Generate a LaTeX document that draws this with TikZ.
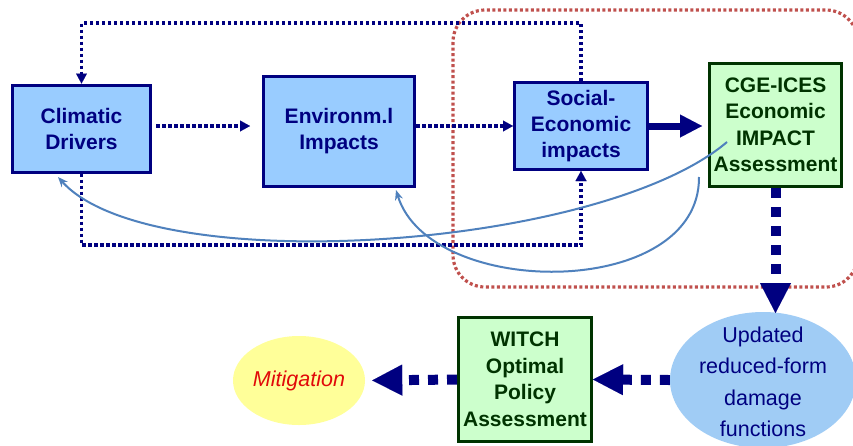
\documentclass[tikz,border=0pt]{standalone}
\usepackage{fontspec}
\setmainfont{Liberation Sans}
\usetikzlibrary{arrows.meta,shapes.geometric}
\definecolor{navyc}{RGB}{0,0,128}
\definecolor{boxblue}{RGB}{153,204,255}
\definecolor{boxgreen}{RGB}{204,255,204}
\definecolor{dgreen}{RGB}{0,51,0}
\definecolor{yellowc}{RGB}{255,255,153}
\definecolor{ellblue}{RGB}{160,204,245}
\definecolor{reddot}{RGB}{192,80,77}
\definecolor{steel}{RGB}{79,129,189}
\definecolor{mitred}{RGB}{225,10,10}
\begin{document}
\begin{tikzpicture}[x=1pt,y=-1pt,
 bluebox/.style={draw=navyc, line width=3pt, fill=boxblue, text=navyc, font=\bfseries\fontsize{21}{26}\selectfont, align=center, inner sep=0pt},
 greenbox/.style={draw=dgreen, line width=3pt, fill=boxgreen, text=dgreen, font=\bfseries\fontsize{21}{26.5}\selectfont, align=center, inner sep=0pt},
 dotline/.style={draw=navyc, line width=3.5pt, dash pattern=on 3.5pt off 2.5pt},
 dottip/.style={-{Triangle[length=10pt,width=11pt,line width=0.01pt]}},
 thickdash/.style={draw=navyc, line width=10pt, dash pattern=on 10pt off 9pt},
 bigtip/.style={-{Triangle[length=30pt,width=31pt,line width=0.01pt]}},
 curvearrow/.style={draw=steel, line width=2pt, -{Stealth[length=10pt,width=8pt]}},
 reddotline/.style={draw=reddot, line width=3.2pt, dash pattern=on 3pt off 2.5pt}]
\useasboundingbox[fill=white] (0,0) rectangle (853,445);

% red grouping frame
\draw[reddotline, rounded corners=32pt] (453,10) rectangle (858,287);

% nodes
\node[bluebox, minimum width=138pt, minimum height=87pt] (clim) at (81.5,128.5) {Climatic\\Drivers};
\node[bluebox, minimum width=151pt, minimum height=110pt] (env) at (339,131) {Environm.l\\Impacts};
\node[bluebox, minimum width=133pt, minimum height=87pt] (soc) at (581,126) {Social-\\Economic\\impacts};
\node[greenbox, minimum width=132pt, minimum height=123pt] (cge) at (775.5,125) {CGE-ICES\\Economic\\IMPACT\\Assessment};
\node[greenbox, minimum width=133pt, minimum height=124pt] (witch) at (525,379.5) {WITCH\\Optimal\\Policy\\Assessment};
\node[ellipse, fill=yellowc, minimum width=132pt, minimum height=89pt, inner sep=0pt] (mit) at (299,380.5) {};
\node[text=mitred, font=\itshape\fontsize{21.5}{26}\selectfont, inner sep=0pt] (mittext) at (mit) {Mitigation};
\node[ellipse, fill=ellblue, minimum width=186pt, minimum height=136pt, inner sep=0pt] (upd) at (763,380) {};
\node[text=navyc, font=\fontsize{21.5}{31.5}\selectfont, align=center, inner sep=0pt] (updtext) at (763,382) {Updated\\reduced-form\\damage\\functions};

% helper coordinates
\coordinate (ttop) at (0,23);
\coordinate (tbot) at (0,245);
\coordinate (hrow) at (0,126);
\coordinate (updtop) at (0,313);

% dotted connectors
\draw[dotline, dottip] (soc.north) -- (soc.north |- ttop) -| (clim.north);
\draw[dotline, dottip] (clim.south) -- (clim.south |- tbot) -| (soc.south);
\draw[dotline, dottip, shorten <=4pt, shorten >=12pt] (clim.east |- hrow) -- (env.west |- hrow);
\draw[dotline, dottip] (env.east |- hrow) -- (soc.west |- hrow);

% thick solid arrow
\draw[navyc, line width=7pt, -{Triangle[length=22pt,width=23pt,line width=0.01pt]}, shorten >=6pt] (soc.east) -- (soc.east -| cge.west);

% thick dashed arrows
\draw[thickdash, bigtip] (cge.south) -- (cge.south |- updtop);
\draw[thickdash, bigtip] (upd.west) -- (witch.east);
\draw[thickdash, bigtip, shorten >=7pt] (witch.west) -- (mit.east);

% feedback curves
\coordinate (c1s) at (727,142);
\coordinate (c1e) at (58,177);
\coordinate (c2s) at (699,177);
\coordinate (c2e) at (396,190);
\draw[curvearrow] (c1s) .. controls (600,250) and (150,280) .. (c1e);
\draw[curvearrow] (c2s) .. controls (700,300) and (430,300) .. (c2e);
\end{tikzpicture}
\end{document}
